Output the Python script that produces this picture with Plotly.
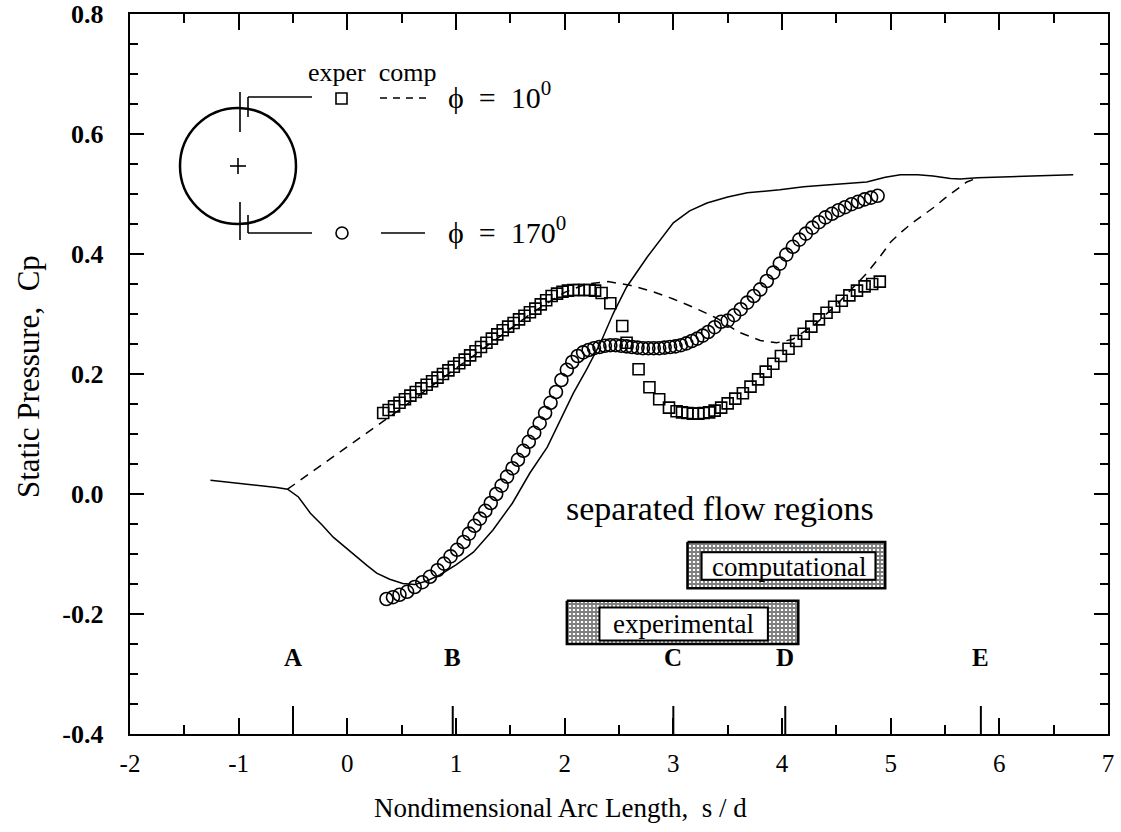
import plotly.graph_objects as go

# ---------------- data ----------------
# phi = 170 deg, computed (solid line)
comp170_s = [-1.26, -1.05, -0.85, -0.65, -0.55, -0.45, -0.34, -0.23, -0.13, -0.02,
             0.09, 0.18, 0.27, 0.39, 0.51, 0.62, 0.73, 0.85, 1.00, 1.16,
             1.34, 1.52, 1.68, 1.84, 1.96, 2.08, 2.20, 2.33, 2.45, 2.57,
             2.76, 3.00, 3.15, 3.31, 3.50, 3.68, 3.98, 4.20, 4.41, 4.60,
             4.78, 4.95, 5.09, 5.25, 5.39, 5.55, 5.64, 5.80, 5.94, 6.20,
             6.45, 6.68]
comp170_cp = [0.023, 0.019, 0.015, 0.011, 0.008, -0.005, -0.032, -0.052, -0.072, -0.089,
              -0.105, -0.119, -0.132, -0.142, -0.149, -0.151, -0.145, -0.135, -0.118, -0.097,
              -0.060, -0.015, 0.035, 0.078, 0.123, 0.168, 0.207, 0.252, 0.302, 0.345,
              0.395, 0.452, 0.472, 0.485, 0.495, 0.502, 0.507, 0.512, 0.515, 0.518,
              0.520, 0.528, 0.532, 0.532, 0.530, 0.526, 0.525, 0.527, 0.528, 0.530,
              0.531, 0.532]

# phi = 10 deg, computed (dashed line)
comp10_s = [-0.55, -0.30, -0.10, 0.10, 0.30, 0.50, 0.80, 1.10, 1.40, 1.70,
            2.00, 2.20, 2.40, 2.60, 2.80, 3.00, 3.20, 3.40, 3.60, 3.80,
            3.95, 4.10, 4.30, 4.50, 4.65, 4.78, 4.90, 5.00, 5.10, 5.20,
            5.30, 5.40, 5.50, 5.60, 5.70, 5.80]
comp10_cp = [0.008, 0.040, 0.066, 0.091, 0.116, 0.143, 0.183, 0.222, 0.262, 0.302,
             0.336, 0.350, 0.354, 0.348, 0.338, 0.325, 0.310, 0.293, 0.270, 0.256,
             0.252, 0.258, 0.282, 0.315, 0.343, 0.368, 0.395, 0.420, 0.437, 0.452,
             0.465, 0.478, 0.493, 0.507, 0.520, 0.527]

# phi = 10 deg, experiment (squares)
exp10_s = [0.33, 0.38, 0.43, 0.48, 0.53, 0.58, 0.63, 0.68, 0.73, 0.78,
           0.83, 0.88, 0.93, 0.98, 1.03, 1.08, 1.13, 1.18, 1.23, 1.28,
           1.33, 1.38, 1.43, 1.48, 1.53, 1.58, 1.63, 1.68, 1.73, 1.78,
           1.83, 1.88, 1.93, 1.98, 2.03, 2.08, 2.13, 2.18, 2.23, 2.28,
           2.34, 2.42, 2.53, 2.57, 2.68, 2.78, 2.87, 2.96, 3.03, 3.08,
           3.13, 3.18, 3.23, 3.28, 3.33, 3.38, 3.44, 3.50, 3.57, 3.64,
           3.71, 3.78, 3.85, 3.92, 3.99, 4.06, 4.13, 4.20, 4.27, 4.34,
           4.41, 4.48, 4.55, 4.62, 4.69, 4.76, 4.83, 4.90]
exp10_cp = [0.135, 0.140, 0.146, 0.152, 0.158, 0.164, 0.170, 0.176, 0.182, 0.188,
            0.194, 0.200, 0.206, 0.212, 0.218, 0.224, 0.231, 0.238, 0.245, 0.252,
            0.259, 0.266, 0.273, 0.279, 0.285, 0.291, 0.297, 0.303, 0.309, 0.316,
            0.323, 0.330, 0.334, 0.337, 0.339, 0.340, 0.340, 0.340, 0.340, 0.339,
            0.335, 0.318, 0.280, 0.252, 0.208, 0.178, 0.158, 0.144, 0.138, 0.136,
            0.135, 0.134, 0.134, 0.135, 0.136, 0.139, 0.144, 0.151, 0.159, 0.168,
            0.179, 0.191, 0.204, 0.217, 0.230, 0.242, 0.255, 0.267, 0.279, 0.291,
            0.302, 0.312, 0.322, 0.331, 0.339, 0.346, 0.350, 0.354]

# phi = 170 deg, experiment (circles)
exp170_s = [0.36, 0.42, 0.48, 0.55, 0.62, 0.69, 0.76, 0.83, 0.89, 0.95,
            1.01, 1.07, 1.12, 1.17, 1.22, 1.27, 1.32, 1.37, 1.42, 1.47,
            1.52, 1.57, 1.62, 1.67, 1.72, 1.77, 1.82, 1.87, 1.92, 1.97,
            2.02, 2.07, 2.12, 2.17, 2.22, 2.27, 2.32, 2.37, 2.42, 2.47,
            2.52, 2.57, 2.62, 2.67, 2.72, 2.77, 2.82, 2.87, 2.92, 2.97,
            3.02, 3.07, 3.12, 3.17, 3.22, 3.27, 3.32, 3.38, 3.44, 3.50,
            3.56, 3.62, 3.68, 3.74, 3.80, 3.86, 3.92, 3.98, 4.04, 4.10,
            4.16, 4.22, 4.28, 4.34, 4.40, 4.46, 4.52, 4.58, 4.64, 4.70,
            4.76, 4.82, 4.88]
exp170_cp = [-0.175, -0.172, -0.168, -0.163, -0.155, -0.147, -0.138, -0.127, -0.116, -0.104,
             -0.093, -0.080, -0.066, -0.053, -0.041, -0.028, -0.015, 0.000, 0.014, 0.029,
             0.043, 0.057, 0.072, 0.087, 0.102, 0.118, 0.135, 0.152, 0.170, 0.190,
             0.207, 0.220, 0.230, 0.236, 0.240, 0.243, 0.245, 0.247, 0.248, 0.248,
             0.247, 0.246, 0.245, 0.244, 0.243, 0.243, 0.243, 0.243, 0.244, 0.245,
             0.246, 0.248, 0.251, 0.255, 0.259, 0.264, 0.270, 0.278, 0.287, 0.289,
             0.298, 0.308, 0.319, 0.330, 0.341, 0.355, 0.369, 0.384, 0.399, 0.412,
             0.424, 0.434, 0.444, 0.453, 0.461, 0.467, 0.473, 0.478, 0.483, 0.487,
             0.491, 0.494, 0.497]

# stations marked along the arc
station_names = ["A", "B", "C", "D", "E"]
station_s = [-0.5, 0.97, 3.0, 4.03, 5.83]

# separated flow extents in s/d
sep_comp = [3.13, 4.95]
sep_exp = [2.02, 4.15]

# axis ticks
x_tickvals = [-2, -1, 0, 1, 2, 3, 4, 5, 6, 7]
x_ticktext = ["-2", "-1", "0", "1", "2", "3", "4", "5", "6", "7"]
y_tickvals = [-0.4, -0.2, 0.0, 0.2, 0.4, 0.6, 0.8]
y_ticktext = ["-0.4", "-0.2", "0.0", "0.2", "0.4", "0.6", "0.8"]

x_range = [-2, 7]
y_range = [-0.4, 0.8]

# ---------------- layout geometry (pixels) ----------------
W, H = 1121, 832
ML, MR, MT, MB = 130, 13, 14, 98
PW, PH = W - ML - MR, H - MT - MB


def pxx(p):
    return (p - ML) / PW


def pxy(p):
    return (H - MB - p) / PH


SERIF = "Liberation Serif"
BLACK = "black"
NB = "\u00a0"

fig = go.Figure()


# separated flow frames (hatched)
def sep_frame(rng, ytop, ybot):
    return go.Scatter(
        x=[rng[0], rng[1], rng[1], rng[0], rng[0]],
        y=[ytop, ytop, ybot, ybot, ytop],
        mode="lines", fill="toself",
        fillcolor="white",
        fillpattern=dict(shape="+", fgcolor=BLACK, bgcolor="white", size=4, solidity=0.7),
        line=dict(color=BLACK, width=2.5),
        hoverinfo="skip", showlegend=False,
    )


fig.add_trace(sep_frame(sep_comp, -0.080, -0.157))
fig.add_trace(sep_frame(sep_exp, -0.178, -0.250))

fig.add_trace(go.Scatter(x=comp10_s, y=comp10_cp, mode="lines",
                         line=dict(color=BLACK, width=1.5, dash="9px,7px"),
                         showlegend=False))
fig.add_trace(go.Scatter(x=exp10_s, y=exp10_cp, mode="markers",
                         marker=dict(symbol="square-open", size=11, color=BLACK,
                                     line=dict(width=1.6, color=BLACK)),
                         showlegend=False))
fig.add_trace(go.Scatter(x=exp170_s, y=exp170_cp, mode="markers",
                         marker=dict(symbol="circle-open", size=13, color=BLACK,
                                     line=dict(width=1.6, color=BLACK)),
                         showlegend=False))
fig.add_trace(go.Scatter(x=comp170_s, y=comp170_cp, mode="lines",
                         line=dict(color=BLACK, width=1.5),
                         showlegend=False))

shapes = []
annotations = []


def label(x, y, text, size, xref="paper", yref="paper", xanchor="center", **kw):
    annotations.append(dict(x=x, y=y, xref=xref, yref=yref, text=text, showarrow=False,
                            xanchor=xanchor, yanchor="middle",
                            font=dict(family=SERIF, size=size, color=BLACK), **kw))


# inner label boxes of the separated flow frames
shapes.append(dict(type="rect", xref="x", yref="y",
                   x0=sep_comp[0] + 0.13, x1=sep_comp[1] - 0.09, y0=-0.097, y1=-0.143,
                   fillcolor="white", line=dict(color=BLACK, width=2), layer="above"))
shapes.append(dict(type="rect", xref="x", yref="y",
                   x0=sep_exp[0] + 0.30, x1=sep_exp[1] - 0.28, y0=-0.189, y1=-0.244,
                   fillcolor="white", line=dict(color=BLACK, width=2), layer="above"))
label((sep_comp[0] + sep_comp[1]) / 2 + 0.02, -0.121, "computational", 27, xref="x", yref="y")
label((sep_exp[0] + sep_exp[1]) / 2 + 0.01, -0.217, "experimental", 27, xref="x", yref="y")
label(pxx(720), pxy(508), "separated flow regions", 34)

# station ticks and letters
for name, s in zip(station_names, station_s):
    shapes.append(dict(type="line", xref="x", yref="paper", x0=s, x1=s, y0=0, y1=28 / PH,
                       line=dict(color=BLACK, width=2)))
    label(s, pxy(657), f"<b>{name}</b>", 25, xref="x")

# cylinder sketch
cx, cy, r = 238, 166, 58
shapes.append(dict(type="circle", xref="paper", yref="paper",
                   x0=pxx(cx - r), x1=pxx(cx + r), y0=pxy(cy + r), y1=pxy(cy - r),
                   line=dict(color=BLACK, width=2.5)))
for (x0, y0, x1, y1) in [(cx - 8, cy, cx + 8, cy), (cx, cy - 8, cx, cy + 8),
                         (240, 92, 240, 132), (240, 202, 240, 240),
                         (248, 117, 248, 97), (248, 97, 312, 97),
                         (248, 215, 248, 233), (248, 233, 312, 233)]:
    shapes.append(dict(type="line", xref="paper", yref="paper",
                       x0=pxx(x0), y0=pxy(y0), x1=pxx(x1), y1=pxy(y1),
                       line=dict(color=BLACK, width=1.6)))

# key: symbols and line styles
shapes.append(dict(type="rect", xref="paper", yref="paper",
                   x0=pxx(336), x1=pxx(347), y0=pxy(104), y1=pxy(93),
                   line=dict(color=BLACK, width=1.6)))
shapes.append(dict(type="circle", xref="paper", yref="paper",
                   x0=pxx(336), x1=pxx(348), y0=pxy(239), y1=pxy(227),
                   line=dict(color=BLACK, width=1.6)))
shapes.append(dict(type="line", xref="paper", yref="paper",
                   x0=pxx(380), x1=pxx(426), y0=pxy(98), y1=pxy(98),
                   line=dict(color=BLACK, width=1.5, dash="7px,6px")))
shapes.append(dict(type="line", xref="paper", yref="paper",
                   x0=pxx(381), x1=pxx(425), y0=pxy(233), y1=pxy(233),
                   line=dict(color=BLACK, width=1.5)))
label(pxx(372), pxy(72), "exper" + NB * 2 + "comp", 26)
label(pxx(446), pxy(95), "\u03d5" + NB * 2 + "=" + NB * 2 + "10<sup>0</sup>", 30, xanchor="left")
label(pxx(446), pxy(230), "\u03d5" + NB * 2 + "=" + NB * 2 + "170<sup>0</sup>", 30, xanchor="left")

# axis titles
label(pxx(560), pxy(808), "Nondimensional Arc Length," + NB * 2 + "s / d", 27)
label(pxx(28), pxy(377), "Static Pressure," + NB * 2 + "Cp", 31, textangle=-90)

axis_common = dict(showgrid=False, zeroline=False, showline=True, linecolor=BLACK,
                   linewidth=1.8, mirror="ticks", ticks="inside", tickcolor=BLACK,
                   tickwidth=1.8, automargin=False, tickmode="array")

fig.update_layout(
    width=W, height=H,
    margin=dict(l=ML, r=MR, t=MT, b=MB),
    paper_bgcolor="white", plot_bgcolor="white",
    showlegend=False,
    shapes=shapes, annotations=annotations,
    xaxis=dict(range=x_range, tickvals=x_tickvals, ticktext=x_ticktext, ticklen=16,
               minor=dict(dtick=0.5, tick0=0, ticklen=9, tickcolor=BLACK, tickwidth=1.5, ticks="inside"),
               tickfont=dict(family=SERIF, size=25, color=BLACK), ticklabelstandoff=6,
               **axis_common),
    yaxis=dict(range=y_range, tickvals=y_tickvals, ticktext=[t + NB * 3 for t in y_ticktext],
               ticklen=14,
               minor=dict(dtick=0.05, tick0=0, ticklen=8, tickcolor=BLACK, tickwidth=1.5, ticks="inside"),
               tickfont=dict(family=SERIF, size=26, color=BLACK, weight="bold"),
               **axis_common),
)

fig.write_html("out.html")
